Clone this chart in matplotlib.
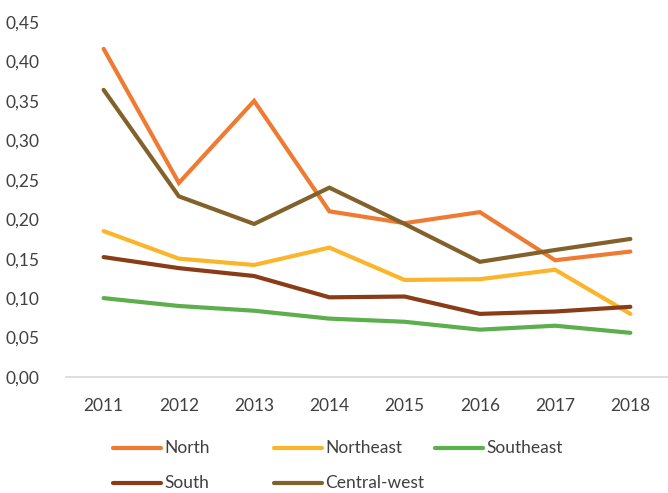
import matplotlib.pyplot as plt
from matplotlib.lines import Line2D
from matplotlib.ticker import FuncFormatter

years = ["2011", "2012", "2013", "2014", "2015", "2016", "2017", "2018"]

north = [0.416, 0.246, 0.350, 0.210, 0.195, 0.209, 0.148, 0.159]
northeast = [0.185, 0.150, 0.142, 0.164, 0.123, 0.124, 0.136, 0.080]
southeast = [0.100, 0.090, 0.084, 0.074, 0.070, 0.060, 0.065, 0.056]
south = [0.152, 0.138, 0.128, 0.101, 0.102, 0.080, 0.083, 0.089]
central_west = [0.364, 0.229, 0.194, 0.240, 0.194, 0.146, 0.161, 0.175]

names = ["North", "Northeast", "Southeast", "South", "Central-west"]
series = [north, northeast, southeast, south, central_west]
colors = ["#EF7B32", "#FBB52B", "#5CAF4C", "#8A3B17", "#82612A"]

plt.rcParams['font.family'] = ['Lato', 'DejaVu Sans']

W, H = 668, 493
fig = plt.figure(figsize=(W / 100, H / 100), dpi=100)
ax = fig.add_axes([66 / W, 1 - 377 / H, (W - 66) / W, (377 - 22) / H])

x = list(range(len(years)))
for vals, color in zip(series, colors):
    ax.plot(x, vals, color=color, linewidth=3, solid_capstyle='round',
            solid_joinstyle='miter')

ax.set_xlim(-0.5, len(years) - 0.5)
ax.set_ylim(0, 0.45)
ax.set_yticks([i * 0.05 for i in range(10)])
ax.yaxis.set_major_formatter(FuncFormatter(lambda v, p: f"{v:.2f}".replace(".", ",")))
ax.set_xticks(x)
ax.set_xticklabels(years)

for s in ["top", "right", "left"]:
    ax.spines[s].set_visible(False)
ax.spines["bottom"].set_color("#D9D9D9")
ax.spines["bottom"].set_linewidth(1.2)
ax.tick_params(axis='both', length=0, labelsize=12.5, colors="#404040")
ax.tick_params(axis='y', pad=19)
ax.tick_params(axis='x', pad=15)

# legend laid out like the Excel one: fixed column width, two rows
for i, (name, color) in enumerate(zip(names, colors)):
    row, col = divmod(i, 3)
    x0 = 113 + col * 161
    y0 = 448 + row * 35
    fig.add_artist(Line2D([x0 / W, (x0 + 48) / W], [1 - y0 / H, 1 - y0 / H],
                          transform=fig.transFigure, color=color, linewidth=3,
                          solid_capstyle='round'))
    fig.text((x0 + 51) / W, 1 - y0 / H, name, fontsize=12.5, color="#404040",
             va='center', ha='left')

fig.savefig("out.png", dpi=100)
